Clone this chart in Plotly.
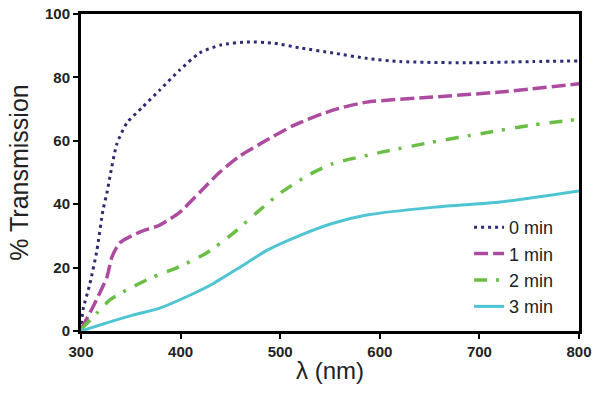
import plotly.graph_objects as go

names = ["0 min", "1 min", "2 min", "3 min"]

x0 = [300, 302, 309, 316, 322, 326, 329, 336, 346, 362, 379, 399, 419, 440, 467, 493, 520, 553, 587, 620, 687, 754, 800]
y0 = [0, 6.6, 15, 25.5, 38, 43.5, 48.6, 59, 65.6, 70.7, 76, 82.3, 87.7, 90.2, 91.2, 90.8, 89.3, 87.7, 86, 85, 84.6, 85, 85.2]

x1 = [300, 312, 326, 331, 339, 359, 379, 399, 420, 440, 460, 487, 513, 553, 587, 653, 721, 800]
y1 = [0.5, 7.6, 17, 23.3, 27.8, 31.2, 33.4, 37.4, 44, 50.3, 55.3, 60.3, 64.8, 69.7, 72.2, 73.8, 75.4, 78]

x2 = [300, 316, 329, 342, 372, 396, 426, 453, 477, 500, 530, 553, 603, 653, 704, 754, 800]
y2 = [0.5, 5.7, 9.8, 12.3, 17, 19.9, 24.6, 30.9, 37.5, 43.5, 49.5, 52.8, 56.5, 59.6, 62.4, 65, 66.8]

x3 = [300, 319, 352, 379, 406, 433, 460, 487, 520, 553, 587, 653, 721, 800]
y3 = [0, 1.9, 5, 7.2, 10.8, 15, 20.2, 25.5, 30.2, 34, 36.6, 39, 40.7, 44.2]

colors = ["#2E2B73", "#AC4B9F", "#6BBE45", "#4FC4D2"]
dashes = ["3px,4px", "14px,5px", "13px,9px,3px,10px", "solid"]
widths = [3, 3.5, 3.5, 3]

fig = go.Figure()
for nm, xs, ys, c, d, w in zip(names, [x0, x1, x2, x3], [y0, y1, y2, y3], colors, dashes, widths):
    fig.add_trace(go.Scatter(x=xs, y=ys, mode="lines", name=nm,
                             line=dict(color=c, dash=d, width=w, shape="spline", smoothing=0.6)))

axis_common = dict(showline=True, linecolor="black", linewidth=3, mirror=True,
                   ticks="outside", ticklen=5, tickwidth=2, tickcolor="black",
                   showgrid=False, zeroline=False, automargin=False,
                   tickfont=dict(family="Liberation Sans, Arial", size=15, color="#222", weight="bold"))

title_font = dict(family="Liberation Sans, Arial", size=24, color="#222")
fig.update_xaxes(range=[300, 800], dtick=100, title=dict(text="λ (nm)", font=title_font, standoff=4), **axis_common)
fig.update_yaxes(range=[0, 100], dtick=20, title=dict(text="% Transmission", font=dict(title_font, size=25), standoff=10), **axis_common)

fig.update_layout(
    width=600, height=408,
    margin=dict(l=81, r=21, t=14, b=77),
    paper_bgcolor="white", plot_bgcolor="white",
    showlegend=True,
    legend=dict(x=0.96, y=0.385, xanchor="right", yanchor="top",
                bgcolor="rgba(0,0,0,0)", itemwidth=30,
                font=dict(family="Liberation Sans, Arial", size=18, color="#222"),
                tracegroupgap=0),
)

fig.write_html("out.html", config={"displayModeBar": False},
               post_script="document.body.style.margin='0';document.body.style.padding='0';")
